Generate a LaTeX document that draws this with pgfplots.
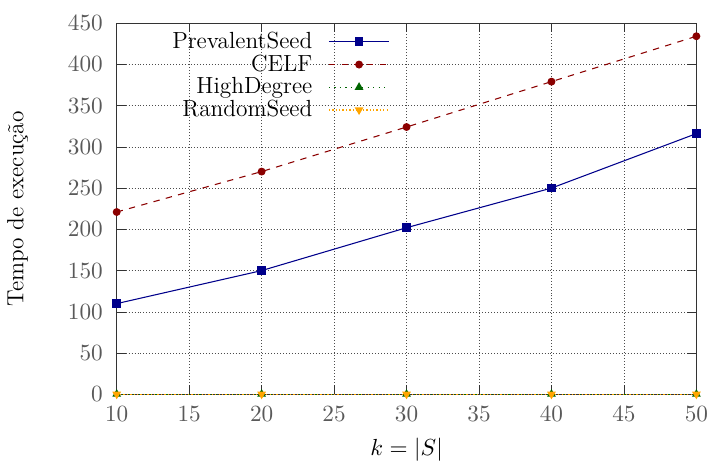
\documentclass[border={0pt 0pt 0pt 4pt}]{standalone}
\usepackage{fontspec}
\usepackage{pgfplots}
\pgfplotsset{compat=1.18}

\definecolor{prev}{HTML}{00008B}
\definecolor{celf}{HTML}{8B0000}
\definecolor{hdeg}{HTML}{006400}
\definecolor{rand}{HTML}{FFA500}

\begin{document}
\begin{tikzpicture}[font=\fontsize{11}{13}\selectfont]
\begin{axis}[
    scale only axis,
    width=9.6cm,
    height=6.15cm,
    xmin=10, xmax=50,
    ymin=0, ymax=450,
    xtick={10,15,...,50},
    ytick={0,50,...,450},
    grid=major,
    grid style={densely dotted, black!70, line width=0.3pt},
    tick align=inside,
    axis line style={black!80},
    tick style={black!80},
    tick label style={text=black!65, font=\fontsize{11}{13}\selectfont},
    label style={font=\fontsize{11}{13}\selectfont},
    yticklabel style={xshift=-3pt},
    xticklabel style={yshift=-2pt, inner xsep=0pt},
    xlabel={$k = |S|$},
    xlabel style={yshift=-1pt},
    ylabel={Tempo de execução},
    ylabel style={yshift=12pt},
    legend plot pos=right,
    legend cell align=right,
    legend style={draw=none, fill=none, at={(0.483,1.0)}, anchor=north east,
        row sep=-2.5pt, column sep=5.5pt, font=\fontsize{11}{13}\selectfont},
    legend image code/.code={
        \draw[mark repeat=2, mark phase=2, #1]
            plot coordinates {(0cm,0cm) (0.5cm,0cm) (1cm,0cm)};
    },
]
\addplot[prev, line width=0.5pt, mark=square*, mark size=1.8pt] coordinates {
    (10,110) (20,150) (30,202) (40,250) (50,316)
};
\addlegendentry{PrevalentSeed}
\addplot[celf, dashed, line width=0.5pt, mark=*, mark size=1.6pt, mark options={solid}] coordinates {
    (10,221) (20,270) (30,324) (40,379) (50,434)
};
\addlegendentry{CELF}
\addplot[hdeg, dotted, line width=0.6pt, mark=triangle*, mark size=1.8pt, mark options={solid}] coordinates {
    (10,0.3) (20,0.3) (30,0.3) (40,0.3) (50,0.3)
};
\addlegendentry{HighDegree}
\addplot[rand, densely dotted, line width=0.6pt, mark=triangle*, mark size=1.8pt, mark options={solid, rotate=180}] coordinates {
    (10,0.2) (20,0.2) (30,0.2) (40,0.2) (50,0.2)
};
\addlegendentry{RandomSeed}
\end{axis}
\end{tikzpicture}
\end{document}
